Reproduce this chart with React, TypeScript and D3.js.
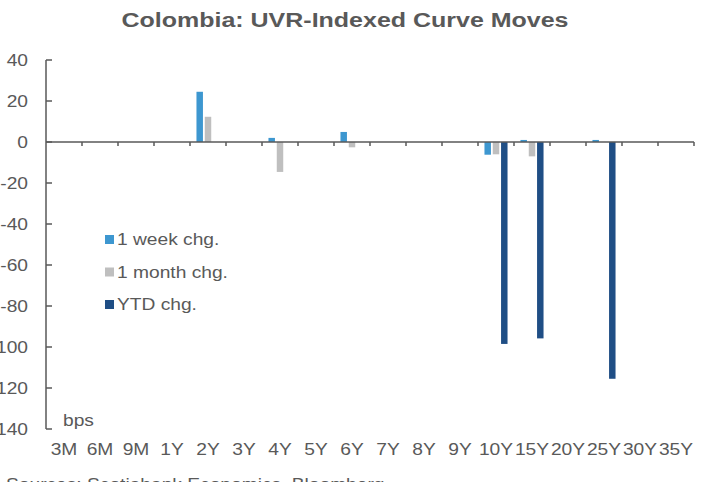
import React from "react";
import * as d3 from "d3";

const categories = ["3M","6M","9M","1Y","2Y","3Y","4Y","5Y","6Y","7Y","8Y","9Y","10Y","15Y","20Y","25Y","30Y","35Y"];
const seriesNames = ["1 week chg.", "1 month chg.", "YTD chg."];
const weekChg = [0,0,0,0,24.5,0,2,0,4.9,0,0,0,-6.2,1,0,1,0,0];
const monthChg = [0,0,0,0,12.3,0,-14.6,0,-2.6,0,0,0,-6,-7,0,0,0,0];
const ytdChg = [0,0,0,0,0,0,0,0,0,0,0,0,-98.5,-95.8,0,-115.5,0,0];
const yTicks = [40,20,0,-20,-40,-60,-80,-100,-120,-140];
const colors = ["#3d97d0", "#bfbfbf", "#1f4e85"];

const W = 707, H = 482;
const TXT = "#595959";
const FONT = "'Liberation Sans', Arial, sans-serif";
const FS = 16;
const SX = 1.2;

function T(props: { x: number; y: number; anchor?: string; size?: number; sx?: number; bold?: boolean; children: React.ReactNode }) {
  const { x, y, anchor = "start", size = FS, sx = SX, bold = false, children } = props;
  return (
    <text
      transform={`translate(${x},${y}) scale(${sx},1)`}
      textAnchor={anchor}
      fontSize={size}
      fontWeight={bold ? "bold" : "normal"}
      fill={TXT}
    >
      {children}
    </text>
  );
}

export default function App() {
  const x = d3.scaleBand<string>().domain(categories).range([46, 694]).padding(0);
  const inner = d3.scaleBand<string>().domain(seriesNames).range([0, x.bandwidth()]).paddingInner(0.22).paddingOuter(0.78);
  const y = d3.scaleLinear().domain([-140, 40]).range([429, 60]);
  const series = [weekChg, monthChg, ytdChg];
  const y0 = y(0);

  return (
    <svg width={W} height={H} style={{ position: "absolute", left: 0, top: 0 }} fontFamily={FONT}>
      <T x={345} y={27} anchor="middle" size={20} sx={1.25} bold>
        Colombia: UVR-Indexed Curve Moves
      </T>
      {series.map((vals, si) =>
        vals.map((v, ci) =>
          v === 0 ? null : (
            <rect
              key={`${si}-${ci}`}
              x={(x(categories[ci]) as number) + (inner(seriesNames[si]) as number)}
              y={Math.min(y(v), y0)}
              width={inner.bandwidth()}
              height={Math.abs(y(v) - y0)}
              fill={colors[si]}
            />
          )
        )
      )}
      {/* y axis */}
      <line x1={46} x2={46} y1={y(40)} y2={y(-140)} stroke={TXT} strokeWidth={1.5} />
      {yTicks.map((t) => (
        <g key={t}>
          <line x1={46} x2={52} y1={y(t)} y2={y(t)} stroke={TXT} strokeWidth={1.5} />
          <T x={28} y={y(t) + 5.5} anchor="end">{t}</T>
        </g>
      ))}
      {/* x axis */}
      <line x1={46} x2={694} y1={y0} y2={y0} stroke={TXT} strokeWidth={1.5} />
      {categories.map((c) => (
        <g key={c}>
          <line x1={(x(c) as number) + x.bandwidth()} x2={(x(c) as number) + x.bandwidth()} y1={y0} y2={y0 + 4} stroke={TXT} strokeWidth={1.5} />
          <T x={(x(c) as number) + x.bandwidth() / 2} y={455} anchor="middle">{c}</T>
        </g>
      ))}
      <T x={63} y={426}>bps</T>
      {/* legend */}
      {seriesNames.map((n, i) => (
        <g key={n}>
          <rect x={105} y={235 + i * 32.5} width={9} height={9} fill={colors[i]} />
          <T x={117} y={245 + i * 32.5}>{n}</T>
        </g>
      ))}
      <T x={6} y={490}>Sources: Scotiabank Economics, Bloomberg.</T>
    </svg>
  );
}
